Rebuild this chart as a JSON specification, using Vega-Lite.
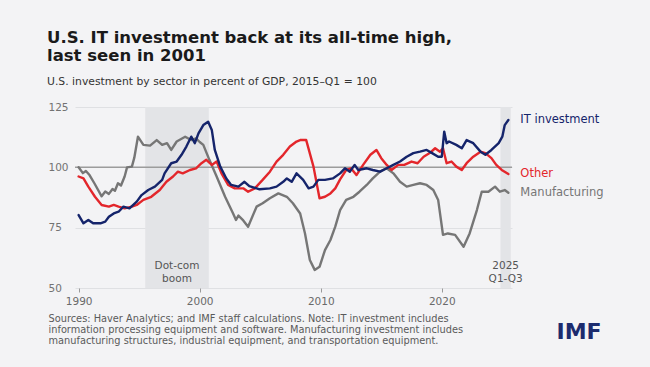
{
  "$schema": "https://vega.github.io/schema/vega-lite/v6.json",
  "width": 437,
  "height": 181,
  "autosize": {"type": "none"},
  "padding": {"left": 75, "top": 107, "right": 138, "bottom": 79},
  "background": "#f3f3f5",
  "title": {
    "text": ["U.S. IT investment back at its all-time high,", "last seen in 2001"],
    "subtitle": "U.S. investment by sector in percent of GDP, 2015–Q1 = 100",
    "anchor": "start",
    "frame": "group",
    "dx": -28,
    "offset": 15,
    "font": "DejaVu Sans",
    "fontSize": 16.5,
    "fontWeight": "bold",
    "lineHeight": 17.5,
    "color": "#1a1a1a",
    "subtitleFont": "DejaVu Sans",
    "subtitleFontSize": 10.8,
    "subtitleColor": "#333333",
    "subtitlePadding": 12
  },
  "config": {
    "view": {"stroke": null},
    "axisX": {
      "domain": false,
      "grid": false,
      "ticks": true,
      "tickSize": 4,
      "tickColor": "#9a9a9a",
      "labelFont": "DejaVu Sans",
      "labelFontSize": 10.5,
      "labelColor": "#6a6a6a",
      "labelPadding": 4
    },
    "axisY": {
      "domain": false,
      "ticks": false,
      "grid": true,
      "gridColor": "#dfe0e3",
      "gridWidth": 1,
      "labelFont": "DejaVu Sans",
      "labelFontSize": 10.5,
      "labelColor": "#727272",
      "labelAlign": "left",
      "labelPadding": 27,
      "labelBaseline": "middle"
    }
  },
  "datasets": {
    "bands": [
      {"start": 1995.5, "end": 2000.75, "label": "Dot-com\nboom"},
      {"start": 2024.85, "end": 2025.7, "label": "2025\nQ1-Q3"}
    ],
    "reference": [{"ref": 100}],
    "series": [
      {"series": "Manufacturing", "year": 1990.0, "value": 100.0},
      {"series": "Manufacturing", "year": 1990.35, "value": 97.6},
      {"series": "Manufacturing", "year": 1990.6, "value": 98.5},
      {"series": "Manufacturing", "year": 1990.9, "value": 96.8},
      {"series": "Manufacturing", "year": 1991.3, "value": 93.4},
      {"series": "Manufacturing", "year": 1991.9, "value": 88.0},
      {"series": "Manufacturing", "year": 1992.2, "value": 90.0},
      {"series": "Manufacturing", "year": 1992.5, "value": 89.0},
      {"series": "Manufacturing", "year": 1992.8, "value": 91.0},
      {"series": "Manufacturing", "year": 1993.0, "value": 90.3},
      {"series": "Manufacturing", "year": 1993.25, "value": 93.4},
      {"series": "Manufacturing", "year": 1993.5, "value": 92.5},
      {"series": "Manufacturing", "year": 1993.8, "value": 96.2},
      {"series": "Manufacturing", "year": 1994.0, "value": 100.0},
      {"series": "Manufacturing", "year": 1994.4, "value": 100.3},
      {"series": "Manufacturing", "year": 1994.6, "value": 104.0},
      {"series": "Manufacturing", "year": 1994.9, "value": 112.7},
      {"series": "Manufacturing", "year": 1995.35, "value": 109.3},
      {"series": "Manufacturing", "year": 1995.9, "value": 109.0},
      {"series": "Manufacturing", "year": 1996.45, "value": 111.3},
      {"series": "Manufacturing", "year": 1996.9, "value": 109.3},
      {"series": "Manufacturing", "year": 1997.3, "value": 110.0},
      {"series": "Manufacturing", "year": 1997.65, "value": 107.2},
      {"series": "Manufacturing", "year": 1998.1, "value": 110.7},
      {"series": "Manufacturing", "year": 1998.8, "value": 112.7},
      {"series": "Manufacturing", "year": 1999.3, "value": 111.3},
      {"series": "Manufacturing", "year": 1999.7, "value": 112.0},
      {"series": "Manufacturing", "year": 2000.0, "value": 110.5},
      {"series": "Manufacturing", "year": 2000.3, "value": 109.3},
      {"series": "Manufacturing", "year": 2000.8, "value": 103.1},
      {"series": "Manufacturing", "year": 2001.4, "value": 96.2},
      {"series": "Manufacturing", "year": 2002.1, "value": 87.8},
      {"series": "Manufacturing", "year": 2002.76, "value": 80.9},
      {"series": "Manufacturing", "year": 2003.0, "value": 78.2},
      {"series": "Manufacturing", "year": 2003.2, "value": 80.0},
      {"series": "Manufacturing", "year": 2003.6, "value": 78.0},
      {"series": "Manufacturing", "year": 2004.0, "value": 75.4},
      {"series": "Manufacturing", "year": 2004.7, "value": 83.7},
      {"series": "Manufacturing", "year": 2005.2, "value": 85.1},
      {"series": "Manufacturing", "year": 2005.8, "value": 87.2},
      {"series": "Manufacturing", "year": 2006.5, "value": 89.2},
      {"series": "Manufacturing", "year": 2007.2, "value": 87.8},
      {"series": "Manufacturing", "year": 2007.7, "value": 85.1},
      {"series": "Manufacturing", "year": 2008.3, "value": 80.9},
      {"series": "Manufacturing", "year": 2008.7, "value": 72.6},
      {"series": "Manufacturing", "year": 2009.1, "value": 61.6},
      {"series": "Manufacturing", "year": 2009.5, "value": 57.5},
      {"series": "Manufacturing", "year": 2009.9, "value": 58.8},
      {"series": "Manufacturing", "year": 2010.35, "value": 65.7},
      {"series": "Manufacturing", "year": 2010.8, "value": 69.9},
      {"series": "Manufacturing", "year": 2011.2, "value": 75.4},
      {"series": "Manufacturing", "year": 2011.6, "value": 82.3},
      {"series": "Manufacturing", "year": 2012.1, "value": 86.5},
      {"series": "Manufacturing", "year": 2012.7, "value": 87.8},
      {"series": "Manufacturing", "year": 2013.2, "value": 89.9},
      {"series": "Manufacturing", "year": 2013.8, "value": 92.7},
      {"series": "Manufacturing", "year": 2014.3, "value": 95.4},
      {"series": "Manufacturing", "year": 2014.9, "value": 98.2},
      {"series": "Manufacturing", "year": 2015.45, "value": 99.6},
      {"series": "Manufacturing", "year": 2016.0, "value": 97.5},
      {"series": "Manufacturing", "year": 2016.55, "value": 94.0},
      {"series": "Manufacturing", "year": 2017.1, "value": 92.0},
      {"series": "Manufacturing", "year": 2017.65, "value": 92.7},
      {"series": "Manufacturing", "year": 2018.2, "value": 93.4},
      {"series": "Manufacturing", "year": 2018.75, "value": 92.7},
      {"series": "Manufacturing", "year": 2019.3, "value": 90.6},
      {"series": "Manufacturing", "year": 2019.7, "value": 86.5},
      {"series": "Manufacturing", "year": 2020.1, "value": 72.0},
      {"series": "Manufacturing", "year": 2020.5, "value": 72.6},
      {"series": "Manufacturing", "year": 2021.1, "value": 72.0},
      {"series": "Manufacturing", "year": 2021.8, "value": 67.1},
      {"series": "Manufacturing", "year": 2022.3, "value": 72.6},
      {"series": "Manufacturing", "year": 2022.9, "value": 82.3},
      {"series": "Manufacturing", "year": 2023.3, "value": 89.9},
      {"series": "Manufacturing", "year": 2023.85, "value": 89.9},
      {"series": "Manufacturing", "year": 2024.4, "value": 92.0},
      {"series": "Manufacturing", "year": 2024.8, "value": 89.9},
      {"series": "Manufacturing", "year": 2025.2, "value": 90.6},
      {"series": "Manufacturing", "year": 2025.5, "value": 89.5},
      {"series": "Other", "year": 1990.0, "value": 96.2},
      {"series": "Other", "year": 1990.4, "value": 95.4},
      {"series": "Other", "year": 1990.8, "value": 92.0},
      {"series": "Other", "year": 1991.35, "value": 87.8},
      {"series": "Other", "year": 1991.9, "value": 84.4},
      {"series": "Other", "year": 1992.5, "value": 83.7},
      {"series": "Other", "year": 1992.9, "value": 84.4},
      {"series": "Other", "year": 1993.3, "value": 83.7},
      {"series": "Other", "year": 1993.8, "value": 83.0},
      {"series": "Other", "year": 1994.4, "value": 83.7},
      {"series": "Other", "year": 1994.8, "value": 84.4},
      {"series": "Other", "year": 1995.35, "value": 86.5},
      {"series": "Other", "year": 1996.0, "value": 87.8},
      {"series": "Other", "year": 1996.7, "value": 90.6},
      {"series": "Other", "year": 1997.25, "value": 94.0},
      {"series": "Other", "year": 1997.8, "value": 96.2},
      {"series": "Other", "year": 1998.2, "value": 98.2},
      {"series": "Other", "year": 1998.6, "value": 97.5},
      {"series": "Other", "year": 1999.2, "value": 98.9},
      {"series": "Other", "year": 1999.7, "value": 99.6},
      {"series": "Other", "year": 2000.15, "value": 101.7},
      {"series": "Other", "year": 2000.55, "value": 103.1},
      {"series": "Other", "year": 2001.0, "value": 101.0},
      {"series": "Other", "year": 2001.4, "value": 102.4},
      {"series": "Other", "year": 2001.8, "value": 97.5},
      {"series": "Other", "year": 2002.35, "value": 92.7},
      {"series": "Other", "year": 2002.9, "value": 91.3},
      {"series": "Other", "year": 2003.6, "value": 91.3},
      {"series": "Other", "year": 2004.0, "value": 89.9},
      {"series": "Other", "year": 2004.55, "value": 91.3},
      {"series": "Other", "year": 2005.2, "value": 94.8},
      {"series": "Other", "year": 2005.8, "value": 98.2},
      {"series": "Other", "year": 2006.35, "value": 102.4},
      {"series": "Other", "year": 2006.9, "value": 105.2},
      {"series": "Other", "year": 2007.45, "value": 108.6},
      {"series": "Other", "year": 2008.0, "value": 110.7},
      {"series": "Other", "year": 2008.3, "value": 111.3},
      {"series": "Other", "year": 2008.8, "value": 111.3},
      {"series": "Other", "year": 2009.4, "value": 100.3},
      {"series": "Other", "year": 2009.9, "value": 87.2},
      {"series": "Other", "year": 2010.35, "value": 87.8},
      {"series": "Other", "year": 2010.8, "value": 89.2},
      {"series": "Other", "year": 2011.2, "value": 91.3},
      {"series": "Other", "year": 2011.6, "value": 95.0},
      {"series": "Other", "year": 2012.1, "value": 98.9},
      {"series": "Other", "year": 2012.5, "value": 99.6},
      {"series": "Other", "year": 2012.95, "value": 96.8},
      {"series": "Other", "year": 2013.5, "value": 101.0},
      {"series": "Other", "year": 2014.1, "value": 105.2},
      {"series": "Other", "year": 2014.6, "value": 107.2},
      {"series": "Other", "year": 2015.0, "value": 103.8},
      {"series": "Other", "year": 2015.45, "value": 101.0},
      {"series": "Other", "year": 2015.85, "value": 98.9},
      {"series": "Other", "year": 2016.4, "value": 101.0},
      {"series": "Other", "year": 2016.9, "value": 101.0},
      {"series": "Other", "year": 2017.5, "value": 102.4},
      {"series": "Other", "year": 2018.0, "value": 101.7},
      {"series": "Other", "year": 2018.5, "value": 104.4},
      {"series": "Other", "year": 2019.0, "value": 105.9},
      {"series": "Other", "year": 2019.45, "value": 107.9},
      {"series": "Other", "year": 2019.85, "value": 106.5},
      {"series": "Other", "year": 2020.1, "value": 107.9},
      {"series": "Other", "year": 2020.4, "value": 101.7},
      {"series": "Other", "year": 2020.8, "value": 102.4},
      {"series": "Other", "year": 2021.2, "value": 100.3},
      {"series": "Other", "year": 2021.65, "value": 98.9},
      {"series": "Other", "year": 2022.05, "value": 101.7},
      {"series": "Other", "year": 2022.6, "value": 104.4},
      {"series": "Other", "year": 2023.2, "value": 106.5},
      {"series": "Other", "year": 2023.6, "value": 105.9},
      {"series": "Other", "year": 2024.1, "value": 103.8},
      {"series": "Other", "year": 2024.5, "value": 101.0},
      {"series": "Other", "year": 2024.95, "value": 98.9},
      {"series": "Other", "year": 2025.5, "value": 97.2},
      {"series": "IT investment", "year": 1990.0, "value": 80.2},
      {"series": "IT investment", "year": 1990.4, "value": 76.8},
      {"series": "IT investment", "year": 1990.8, "value": 78.2},
      {"series": "IT investment", "year": 1991.2, "value": 76.8},
      {"series": "IT investment", "year": 1991.8, "value": 76.8},
      {"series": "IT investment", "year": 1992.2, "value": 77.5},
      {"series": "IT investment", "year": 1992.5, "value": 79.5},
      {"series": "IT investment", "year": 1992.9, "value": 80.9},
      {"series": "IT investment", "year": 1993.3, "value": 81.6},
      {"series": "IT investment", "year": 1993.7, "value": 83.7},
      {"series": "IT investment", "year": 1994.2, "value": 83.0},
      {"series": "IT investment", "year": 1994.8, "value": 85.8},
      {"series": "IT investment", "year": 1995.2, "value": 88.5},
      {"series": "IT investment", "year": 1995.75, "value": 90.6},
      {"series": "IT investment", "year": 1996.3, "value": 92.0},
      {"series": "IT investment", "year": 1996.9, "value": 94.8},
      {"series": "IT investment", "year": 1997.1, "value": 97.5},
      {"series": "IT investment", "year": 1997.65, "value": 101.7},
      {"series": "IT investment", "year": 1998.1, "value": 102.4},
      {"series": "IT investment", "year": 1998.5, "value": 105.2},
      {"series": "IT investment", "year": 1998.9, "value": 108.6},
      {"series": "IT investment", "year": 1999.3, "value": 112.7},
      {"series": "IT investment", "year": 1999.6, "value": 110.0},
      {"series": "IT investment", "year": 1999.9, "value": 114.1},
      {"series": "IT investment", "year": 2000.3, "value": 117.5},
      {"series": "IT investment", "year": 2000.7, "value": 118.9},
      {"series": "IT investment", "year": 2001.0, "value": 115.5},
      {"series": "IT investment", "year": 2001.25, "value": 107.2},
      {"series": "IT investment", "year": 2001.7, "value": 100.3},
      {"series": "IT investment", "year": 2002.2, "value": 95.4},
      {"series": "IT investment", "year": 2002.6, "value": 92.7},
      {"series": "IT investment", "year": 2003.2, "value": 92.0},
      {"series": "IT investment", "year": 2003.7, "value": 94.0},
      {"series": "IT investment", "year": 2004.1, "value": 92.2},
      {"series": "IT investment", "year": 2004.95, "value": 90.9},
      {"series": "IT investment", "year": 2005.8, "value": 91.3},
      {"series": "IT investment", "year": 2006.35, "value": 92.0},
      {"series": "IT investment", "year": 2006.9, "value": 94.0},
      {"series": "IT investment", "year": 2007.2, "value": 95.4},
      {"series": "IT investment", "year": 2007.6, "value": 94.0},
      {"series": "IT investment", "year": 2008.0, "value": 97.5},
      {"series": "IT investment", "year": 2008.55, "value": 94.8},
      {"series": "IT investment", "year": 2009.0, "value": 91.3},
      {"series": "IT investment", "year": 2009.4, "value": 92.0},
      {"series": "IT investment", "year": 2009.8, "value": 94.8},
      {"series": "IT investment", "year": 2010.35, "value": 94.8},
      {"series": "IT investment", "year": 2011.0, "value": 95.4},
      {"series": "IT investment", "year": 2011.6, "value": 97.5},
      {"series": "IT investment", "year": 2012.0, "value": 99.6},
      {"series": "IT investment", "year": 2012.4, "value": 98.2},
      {"series": "IT investment", "year": 2012.8, "value": 101.0},
      {"series": "IT investment", "year": 2013.1, "value": 98.9},
      {"series": "IT investment", "year": 2013.8, "value": 99.6},
      {"series": "IT investment", "year": 2014.3, "value": 98.9},
      {"series": "IT investment", "year": 2014.9, "value": 98.2},
      {"series": "IT investment", "year": 2015.45, "value": 99.6},
      {"series": "IT investment", "year": 2016.0, "value": 101.0},
      {"series": "IT investment", "year": 2016.55, "value": 102.4},
      {"series": "IT investment", "year": 2017.1, "value": 104.4},
      {"series": "IT investment", "year": 2017.65, "value": 105.9},
      {"series": "IT investment", "year": 2018.2, "value": 106.5},
      {"series": "IT investment", "year": 2018.75, "value": 107.2},
      {"series": "IT investment", "year": 2019.2, "value": 105.9},
      {"series": "IT investment", "year": 2019.7, "value": 104.4},
      {"series": "IT investment", "year": 2020.0, "value": 104.4},
      {"series": "IT investment", "year": 2020.2, "value": 114.8},
      {"series": "IT investment", "year": 2020.4, "value": 110.0},
      {"series": "IT investment", "year": 2020.6, "value": 110.7},
      {"series": "IT investment", "year": 2021.2, "value": 109.3},
      {"series": "IT investment", "year": 2021.65, "value": 107.9},
      {"series": "IT investment", "year": 2022.05, "value": 111.3},
      {"series": "IT investment", "year": 2022.6, "value": 110.0},
      {"series": "IT investment", "year": 2023.2, "value": 106.5},
      {"series": "IT investment", "year": 2023.6, "value": 105.2},
      {"series": "IT investment", "year": 2024.1, "value": 107.2},
      {"series": "IT investment", "year": 2024.7, "value": 110.0},
      {"series": "IT investment", "year": 2025.0, "value": 112.7},
      {"series": "IT investment", "year": 2025.2, "value": 117.5},
      {"series": "IT investment", "year": 2025.5, "value": 119.6}
    ]
  },
  "layer": [
    {
      "data": {"name": "bands"},
      "mark": {"type": "rect", "color": "#e3e4e7"},
      "encoding": {
        "x": {"field": "start", "type": "quantitative", "scale": {"domain": [1989.7, 2025.8], "nice": false, "zero": false}},
        "x2": {"field": "end"},
        "y": {"datum": 125, "type": "quantitative", "scale": {"domain": [50, 125], "nice": false, "zero": false}},
        "y2": {"datum": 50}
      }
    },
    {
      "data": {"name": "reference"},
      "mark": {"type": "rule", "color": "#9c9c9c", "strokeWidth": 1.5},
      "encoding": {
        "y": {"field": "ref", "type": "quantitative", "scale": {"domain": [50, 125], "nice": false, "zero": false}}
      }
    },
    {
      "data": {"name": "series"},
      "mark": {"type": "line", "strokeWidth": 2.4, "strokeJoin": "round", "strokeCap": "round"},
      "encoding": {
        "x": {
          "field": "year",
          "type": "quantitative",
          "scale": {"domain": [1989.7, 2025.8], "nice": false, "zero": false},
          "axis": {
            "values": [1990, 2000, 2010, 2020],
            "format": "d",
            "title": [
              "Sources: Haver Analytics; and IMF staff calculations. Note: IT investment includes",
              "information processing equipment and software. Manufacturing investment includes",
              "manufacturing structures, industrial equipment, and transportation equipment."
            ],
            "titleFont": "DejaVu Sans",
            "titleFontSize": 9.8,
            "titleFontWeight": "normal",
            "titleColor": "#5a5a5a",
            "titleLineHeight": 11,
            "titleAlign": "left",
            "titleAnchor": "start",
            "titleBaseline": "alphabetic",
            "titleX": -27,
            "titleY": 33
          }
        },
        "y": {
          "field": "value",
          "type": "quantitative",
          "scale": {"domain": [50, 125], "nice": false, "zero": false},
          "axis": {
            "values": [50, 75, 100, 125],
            "title": "IMF",
            "titleAngle": 0,
            "titleFont": "DejaVu Sans",
            "titleFontSize": 22,
            "titleFontWeight": "bold",
            "titleColor": "#1c2b6e",
            "titleAlign": "left",
            "titleBaseline": "alphabetic",
            "titleX": 481,
            "titleY": 231
          }
        },
        "color": {
          "field": "series",
          "type": "nominal",
          "scale": {"domain": ["Manufacturing", "Other", "IT investment"], "range": ["#767676", "#e3262b", "#15246b"]},
          "legend": null
        }
      }
    },
    {
      "data": {"name": "series"},
      "transform": [
        {"joinaggregate": [{"op": "max", "field": "year", "as": "lastYear"}], "groupby": ["series"]},
        {"filter": "datum.year === datum.lastYear"}
      ],
      "mark": {"type": "text", "align": "left", "baseline": "middle", "dx": 12, "font": "DejaVu Sans", "fontSize": 11.5},
      "encoding": {
        "x": {"field": "year", "type": "quantitative"},
        "y": {"field": "value", "type": "quantitative"},
        "text": {"field": "series"},
        "color": {"field": "series", "type": "nominal", "legend": null}
      }
    },
    {
      "data": {"name": "bands"},
      "transform": [{"calculate": "(datum.start + datum.end) / 2", "as": "mid"}],
      "mark": {"type": "text", "align": "center", "baseline": "middle", "lineBreak": "\n", "lineHeight": 12.5, "font": "DejaVu Sans", "fontSize": 10.5, "color": "#555555"},
      "encoding": {
        "x": {"field": "mid", "type": "quantitative"},
        "y": {"datum": 59, "type": "quantitative"},
        "text": {"field": "label"}
      }
    }
  ]
}
